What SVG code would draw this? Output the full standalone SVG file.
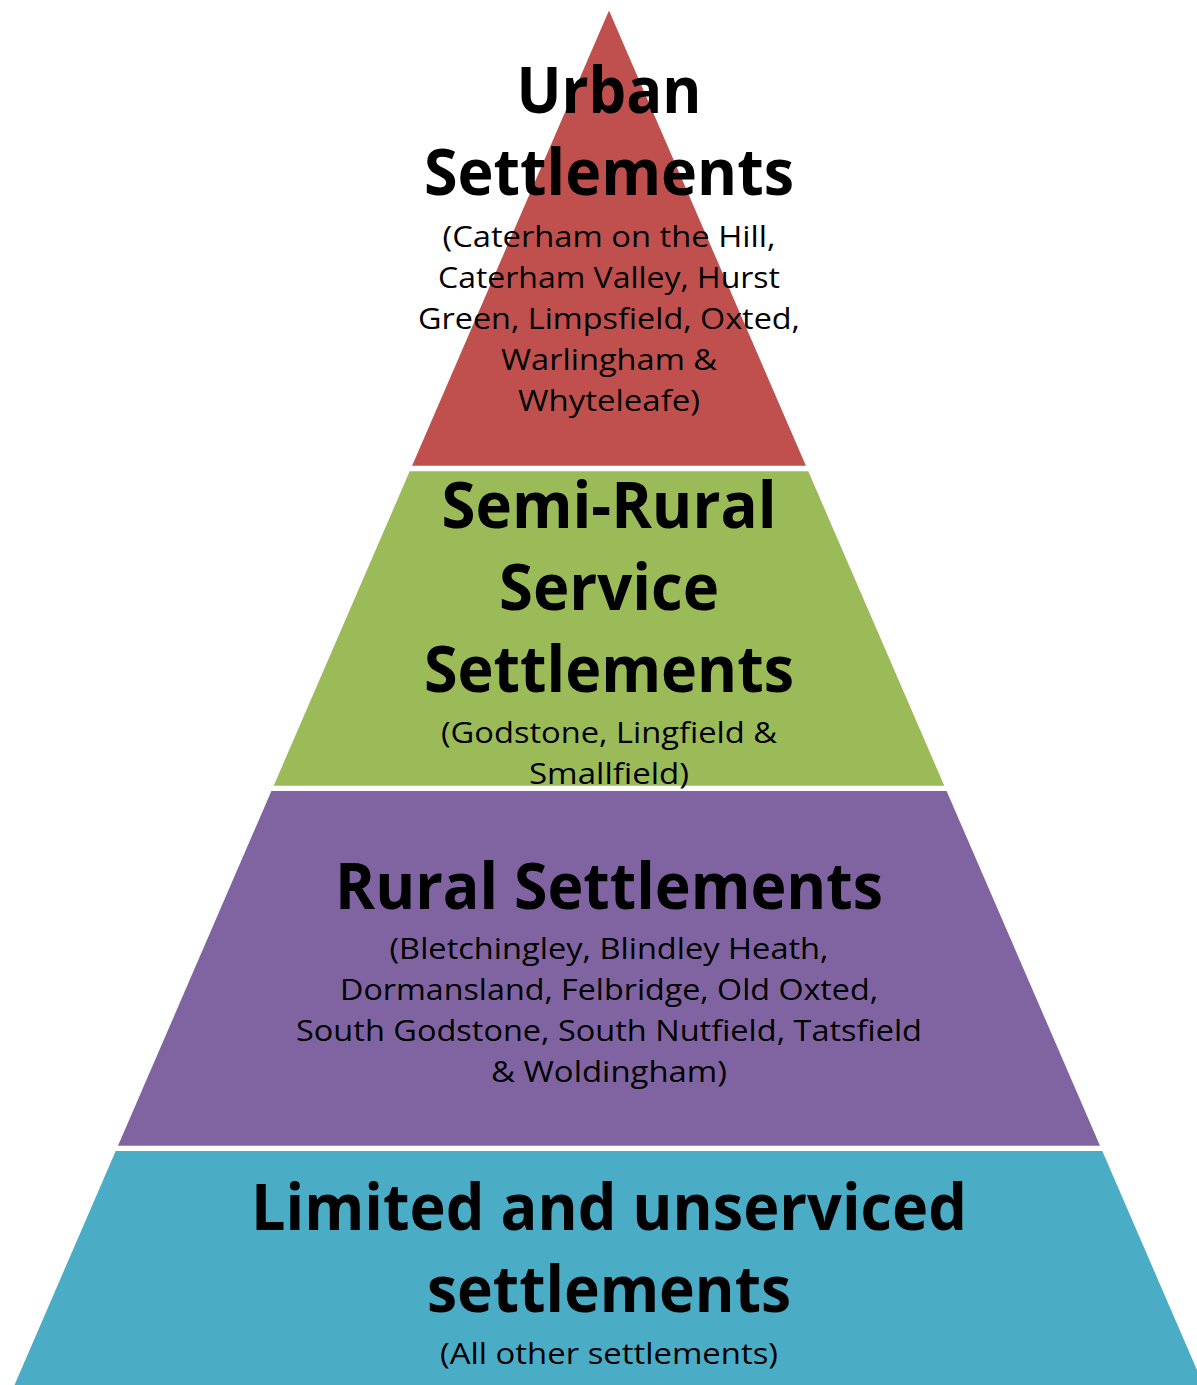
<svg xmlns="http://www.w3.org/2000/svg" width="1197" height="1385" viewBox="0 0 1197 1385">
<style>
.h{font-family:"Open Sans","Liberation Sans",sans-serif;font-weight:bold;font-size:65px;fill:#000;text-anchor:middle}
.s{font-family:"Open Sans","Liberation Sans",sans-serif;font-size:29.5px;fill:#000;text-anchor:middle}
</style>
<rect width="1197" height="1385" fill="#fff"/>
<g id="urban">
<polygon points="609,10.5 805.9,465.7 412.1,465.7" fill="#C0504D"/>
<text class="h" x="609" y="113" textLength="185" lengthAdjust="spacingAndGlyphs">Urban</text>
<text class="h" x="609" y="195" textLength="370" lengthAdjust="spacingAndGlyphs">Settlements</text>
<text class="s" x="609" y="246.5" textLength="333" lengthAdjust="spacingAndGlyphs">(Caterham on the Hill,</text>
<text class="s" x="609" y="287.5" textLength="342" lengthAdjust="spacingAndGlyphs">Caterham Valley, Hurst</text>
<text class="s" x="609" y="328.5" textLength="382" lengthAdjust="spacingAndGlyphs">Green, Limpsfield, Oxted,</text>
<text class="s" x="609" y="369.5" textLength="216" lengthAdjust="spacingAndGlyphs">Warlingham &amp;</text>
<text class="s" x="609" y="410.5" textLength="182" lengthAdjust="spacingAndGlyphs">Whyteleafe)</text>
</g>
<g id="semirural">
<polygon points="409.7,471.3 808.3,471.3 944.3,785.7 273.7,785.7" fill="#9BBB59"/>
<text class="h" x="609" y="528" textLength="335" lengthAdjust="spacingAndGlyphs">Semi-Rural</text>
<text class="h" x="609" y="610" textLength="220" lengthAdjust="spacingAndGlyphs">Service</text>
<text class="h" x="609" y="692" textLength="370" lengthAdjust="spacingAndGlyphs">Settlements</text>
<text class="s" x="609" y="742.5" textLength="336" lengthAdjust="spacingAndGlyphs">(Godstone, Lingfield &amp;</text>
<text class="s" x="609" y="783.5" textLength="160" lengthAdjust="spacingAndGlyphs">Smallfield)</text>
</g>
<g id="rural">
<polygon points="271.4,791 946.6,791 1100,1145.7 118,1145.7" fill="#8064A2"/>
<text class="h" x="609" y="909" textLength="548" lengthAdjust="spacingAndGlyphs">Rural Settlements</text>
<text class="s" x="609" y="958.5" textLength="439" lengthAdjust="spacingAndGlyphs">(Bletchingley, Blindley Heath,</text>
<text class="s" x="609" y="999.5" textLength="538" lengthAdjust="spacingAndGlyphs">Dormansland, Felbridge, Old Oxted,</text>
<text class="s" x="609" y="1040.5" textLength="626" lengthAdjust="spacingAndGlyphs">South Godstone, South Nutfield, Tatsfield</text>
<text class="s" x="609" y="1081.5" textLength="236" lengthAdjust="spacingAndGlyphs">&amp; Woldingham)</text>
</g>
<g id="limited">
<polygon points="115.7,1151 1102.3,1151 1203.5,1385 14.5,1385" fill="#4BACC6"/>
<text class="h" x="609" y="1230" textLength="716" lengthAdjust="spacingAndGlyphs">Limited and unserviced</text>
<text class="h" x="609" y="1312" textLength="364" lengthAdjust="spacingAndGlyphs">settlements</text>
<text class="s" x="609" y="1363.5" textLength="338" lengthAdjust="spacingAndGlyphs">(All other settlements)</text>
</g>
<g id="connectors"/>
</svg>
